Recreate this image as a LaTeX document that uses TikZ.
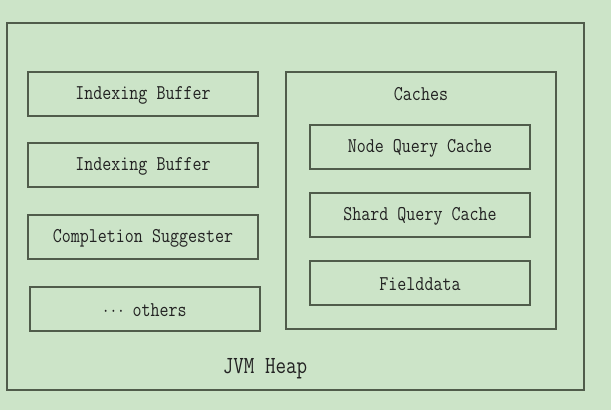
\documentclass[tikz,border=0pt]{standalone}
\usepackage{fontspec}
\usepackage{graphicx}
\begin{document}
\definecolor{bg}{HTML}{CCE4C8}
\definecolor{ln}{HTML}{505C4B}
\definecolor{tx}{HTML}{222222}
\newcommand{\tall}[1]{\scalebox{1}[1.2]{#1}}
\begin{tikzpicture}[x=1pt,y=-1pt,
  box/.style={draw=ln,line width=1.8pt},
  lbl/.style={text=tx,font=\ttfamily\fontsize{17.5}{19}\selectfont,inner sep=0pt},
  biglbl/.style={lbl,font=\ttfamily\fontsize{20.5}{22}\selectfont}]
\fill[bg] (0,0) rectangle (611,410);
\useasboundingbox (0,0) rectangle (611,410);
\draw[box] (7,23) rectangle (584,390);
\node[biglbl] (heap) at (265,369) {\tall{JVM Heap}};
\draw[box] (28,72) rectangle (258,116);
\node[lbl] (ib1) at (143,95) {\tall{Indexing Buffer}};
\draw[box] (28,143) rectangle (258,187);
\node[lbl] (ib2) at (143,166) {\tall{Indexing Buffer}};
\draw[box] (28,215) rectangle (258,259);
\node[lbl] (cs) at (143,238) {\tall{Completion Suggester}};
\draw[box] (30,287) rectangle (260,331);
\node[lbl] (oth) at (145,310) {\tall{$\mathbf{\cdots}$ others}};
\draw[box] (286,72) rectangle (556,329);
\node[lbl] (cac) at (421,94) {\tall{Caches}};
\draw[box] (310,125) rectangle (530,169);
\node[lbl] (nqc) at (420,148) {\tall{Node Query Cache}};
\draw[box] (310,193) rectangle (530,237);
\node[lbl] (sqc) at (420,216) {\tall{Shard Query Cache}};
\draw[box] (310,261) rectangle (530,305);
\node[lbl] (fd) at (420,284) {\tall{Fielddata}};
\end{tikzpicture}
\end{document}
